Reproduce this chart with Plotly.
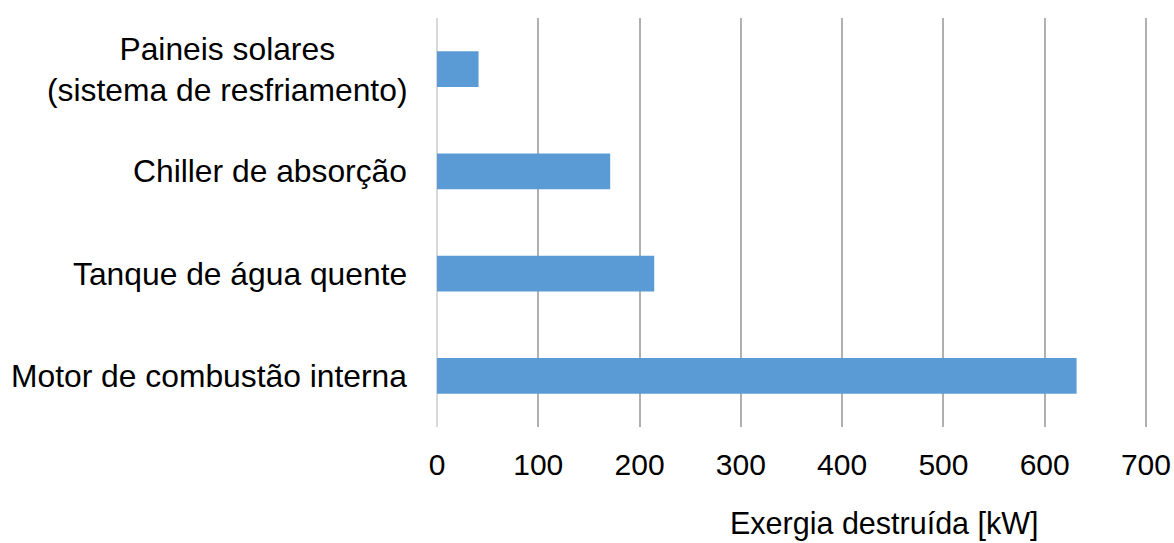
import plotly.graph_objects as go

# Destroyed exergy per component [kW]
componentes = [
    "Motor de combustão interna",
    "Tanque de água quente",
    "Chiller de absorção",
    "Paineis solares<br>(sistema de resfriamento)",
]
exergia_kw = [631.5, 214.5, 171, 41]
x_ticks = [0, 100, 200, 300, 400, 500, 600, 700]

FONT = "Liberation Sans, Arial, sans-serif"

fig = go.Figure(
    go.Bar(
        x=exergia_kw,
        y=componentes,
        orientation="h",
        marker=dict(color="#5b9bd5", line=dict(width=0)),
        hoverinfo="x+y",
    )
)

# Category labels as centred, right-anchored text next to the axis
for nome in componentes:
    fig.add_annotation(
        x=0, xref="paper", y=nome, yref="y",
        text=nome, showarrow=False,
        xanchor="right", yanchor="middle", align="center",
        xshift=-28,
        font=dict(family=FONT, size=31.8, color="#000000"),
    )

# Axis title
fig.add_annotation(
    x=0.63, xref="paper", y=-0.235, yref="paper",
    text="Exergia destruída [kW]", showarrow=False,
    xanchor="center", yanchor="middle",
    font=dict(family=FONT, size=30.5, color="#000000"),
)

fig.update_layout(
    width=1174, height=543,
    margin=dict(l=436.5, r=26, t=18, b=116),
    paper_bgcolor="white", plot_bgcolor="white",
    bargap=0.648,
    showlegend=False,
    xaxis=dict(
        range=[0, 702],
        tickvals=x_ticks,
        ticktext=[str(v) for v in x_ticks],
        showgrid=True, gridcolor="#b0b0b0", gridwidth=2,
        zeroline=True, zerolinecolor="#d9d9d9", zerolinewidth=2,
        showline=False, ticks="",
        ticklabelstandoff=17,
        tickfont=dict(family=FONT, size=30, color="#000000"),
        automargin=False,
        fixedrange=True,
    ),
    yaxis=dict(
        categoryorder="array", categoryarray=componentes,
        showticklabels=False, showgrid=False, zeroline=False,
        showline=False, ticks="",
        automargin=False,
        fixedrange=True,
    ),
)

fig.write_html("out.html")
